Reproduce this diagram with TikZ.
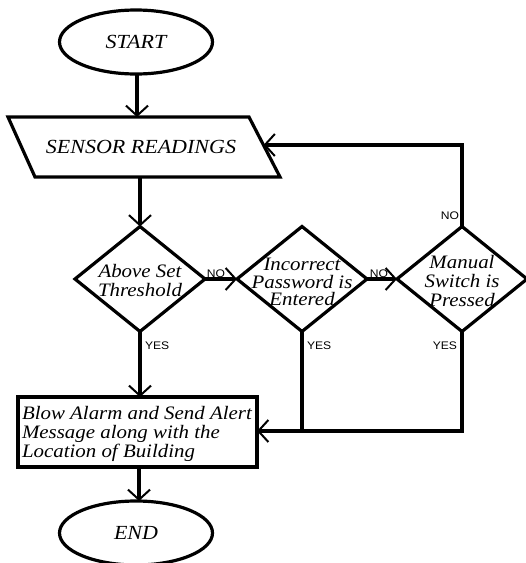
\documentclass[tikz,border=0pt]{standalone}
\usepackage{fontspec}
\setmainfont{Liberation Serif}[FakeStretch=1.1]
\newfontfamily\lsans{Liberation Sans}[FakeStretch=1.1]
\usetikzlibrary{shapes.geometric,arrows.meta,calc}
\tikzset{
  every node/.style={inner sep=0pt, outer sep=0pt},
  shp/.style={draw, line width=3.2pt},
  term/.style={shp, ellipse, minimum width=153pt, minimum height=64pt, font=\itshape\fontsize{20}{22}\selectfont},
  dia/.style={shp, diamond, minimum width=130pt, minimum height=105pt},
  dtext/.style={align=center, font=\itshape\fontsize{19}{19}\selectfont},
  boxstyle/.style={shp, rectangle, minimum width=239pt, minimum height=70pt},
  btext/.style={align=left, font=\itshape\fontsize{19}{19}\selectfont},
  lab/.style={font=\lsans\fontsize{11}{12}\selectfont},
  conn/.style={line width=3.2pt, -{Straight Barb[length=10pt,width=22pt,line width=2pt]}},
  plain/.style={line width=3.2pt}
}
\begin{document}
\begin{tikzpicture}[x=1pt,y=-1pt]
\useasboundingbox (0,0) rectangle (526,563);
% shapes
\node[term] (start) at (136,42) {START};
\coordinate (srtl) at (8,117);
\coordinate (srtr) at (249,117);
\coordinate (srbr) at (280,177);
\coordinate (srbl) at (35,177);
\draw[shp, line join=miter] (srtl) -- (srtr) -- (srbr) -- (srbl) -- cycle;
\node[font=\itshape\fontsize{20}{22}\selectfont] (srt) at (141,147) {SENSOR READINGS};
\coordinate (srin) at (137,117);
\coordinate (srout) at (140,177);
\coordinate (fbend) at ($(srtr)!0.467!(srbr)$);
\node[dia] (d1) at (140,279) {};
\node[dtext] (t1) at (140,281) {Above Set\\Threshold};
\node[dia] (d2) at (302,279) {};
\node[dtext, font=\itshape\fontsize{19}{17.5}\selectfont] (t2) at (302,282) {Incorrect\\Password is\\Entered};
\node[dia] (d3) at (462,279) {};
\node[dtext] (t3) at (462,281) {Manual\\Switch is\\Pressed};
\node[boxstyle] (alarm) at (137.5,432) {};
\node[btext, anchor=west] (at) at (22,434) {Blow Alarm and Send Alert\\Message along with the\\Location of Building};
\node[term] (end) at (136,533) {END};
% connectors
\draw[conn] (start.south -| srin) -- (srin);
\draw[conn] (srout) -- (d1.north);
\draw[conn] (d1.east) -- (d2.west);
\draw[conn] (d2.east) -- (d3.west);
\draw[conn] (d3.north) |- (fbend);
\draw[conn] (d1.south) -- (d1.south |- alarm.north);
\draw[plain] (d2.south) -- (d2.south |- 0,431);
\draw[conn] (d3.south) -- (d3.south |- 0,431) -- (alarm.east |- 0,431);
\draw[conn] (alarm.south -| 139,0) -- (end.north -| 139,0);
% labels
\node[lab, anchor=south] at (216,278) {NO};
\node[lab, anchor=south] at (379,278) {NO};
\node[lab, anchor=east] at (459,216) {NO};
\node[lab, anchor=west] at (145,346) {YES};
\node[lab, anchor=west] at (307,346) {YES};
\node[lab, anchor=east] at (457,346) {YES};
\end{tikzpicture}
\end{document}
